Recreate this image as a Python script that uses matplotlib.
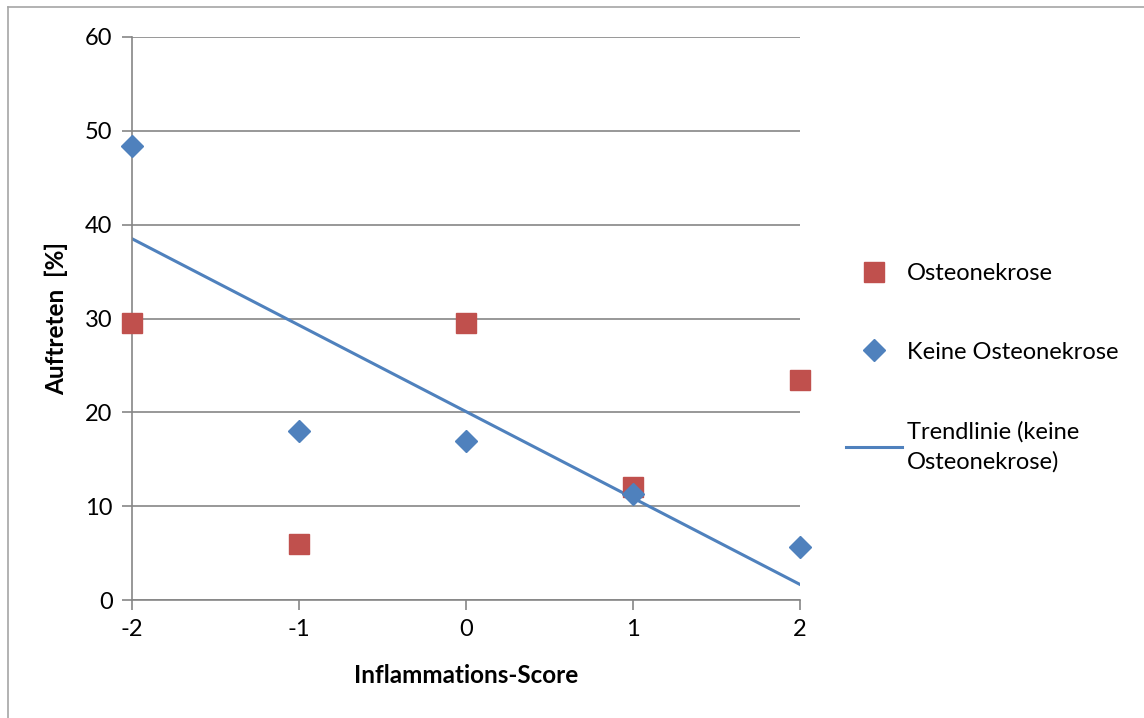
import numpy as np
import matplotlib
matplotlib.use("Agg")
import matplotlib.pyplot as plt
from matplotlib.lines import Line2D


# Inflammations-Score und Auftreten [%]
scores = [-2, -1, 0, 1, 2]
osteonekrose = [29.5, 6.0, 29.5, 12.0, 23.5]
keine_osteonekrose = [48.4, 18.0, 17.0, 11.3, 5.7]

y_ticks = [0, 10, 20, 30, 40, 50, 60]

ROT = "#C0504D"
BLAU = "#4F81BD"
GRAU = "#868686"

plt.rcParams["font.family"] = ["Lato", "DejaVu Sans"]

fig = plt.figure(figsize=(11.44, 7.18), dpi=100)
ax = fig.add_axes([0.1154, 0.1643, 0.5839, 0.7842])

# Trendlinie (lineare Regression über "keine Osteonekrose")
steigung, achse = np.polyfit(scores, keine_osteonekrose, 1)
x_trend = np.array([scores[0], scores[-1]])

ax.plot(scores, osteonekrose, "s", color=ROT, markersize=14.5,
        linestyle="none", label="Osteonekrose", zorder=3, clip_on=False)
ax.plot(scores, keine_osteonekrose, "D", color=BLAU, markersize=11.5,
        linestyle="none", label="Keine Osteonekrose", zorder=4, clip_on=False)
ax.plot(x_trend, steigung * x_trend + achse, color=BLAU, linewidth=2.2,
        label="Trendlinie (keine\nOsteonekrose)", zorder=2)

ax.set_xlim(-2, 2)
ax.set_ylim(0, 60)
ax.set_xticks(scores)
ax.set_yticks(y_ticks)
ax.set_xticklabels([str(s) for s in scores])
ax.tick_params(axis="both", direction="out", length=7, width=1.2,
               color=GRAU, labelsize=17, pad=7)
ax.set_axisbelow(True)
ax.grid(axis="y", color=GRAU, linewidth=1.2)

for side in ["top", "right"]:
    ax.spines[side].set_visible(False)
for side in ["left", "bottom"]:
    ax.spines[side].set_color(GRAU)
    ax.spines[side].set_linewidth(1.2)

ax.set_xlabel("Inflammations-Score", fontsize=17.5, fontweight="bold", labelpad=17)
ax.set_ylabel("Auftreten  [%]", fontsize=17.5, fontweight="bold", labelpad=12)

leg = ax.legend(loc="center left", bbox_to_anchor=(0.731, 0.488),
                bbox_transform=fig.transFigure, frameon=False, fontsize=17,
                labelspacing=2.45, handlelength=2.4, handletextpad=0.2,
                borderaxespad=0)
leg.get_texts()[2].set_linespacing(1.5)

# Rahmen um das Diagramm
fig.add_artist(Line2D([0.007, 0.007], [0.0, 0.990], color="#A6A6A6",
                      linewidth=1.2, transform=fig.transFigure))
fig.add_artist(Line2D([0.007, 1.0], [0.990, 0.990], color="#A6A6A6",
                      linewidth=1.2, transform=fig.transFigure))

fig.savefig("out.png", dpi=100)
